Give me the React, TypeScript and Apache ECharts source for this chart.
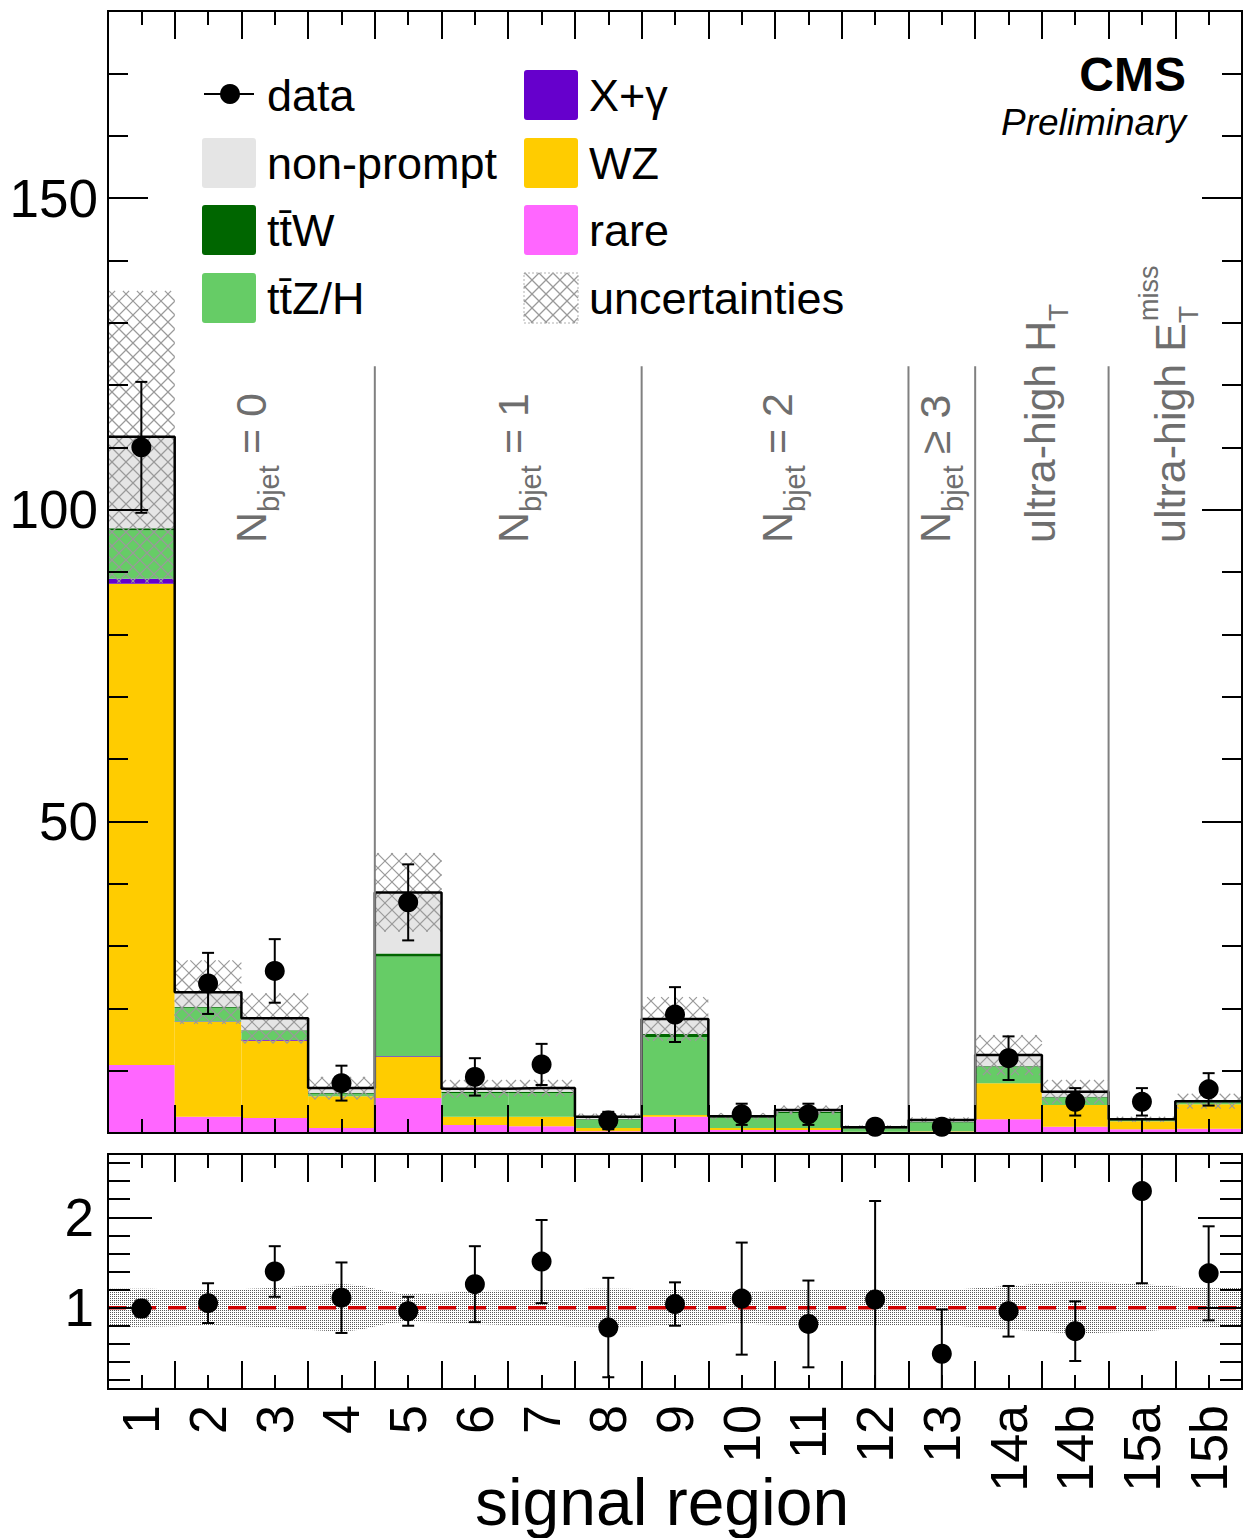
import React, { useEffect, useRef } from 'react';
import * as echarts from 'echarts';

const FONT = '"Liberation Sans", Arial, Helvetica, sans-serif';

// ---------------- data ----------------
const regions = ['1', '2', '3', '4', '5', '6', '7', '8', '9', '10', '11', '12', '13', '14a', '14b', '15a', '15b'];

// background components (events), stacked bottom -> top
const rare = [10.9, 2.6, 2.4, 0.8, 5.6, 1.3, 1.1, 0.3, 2.6, 0.5, 0.5, 0.1, 0.2, 2.2, 1.0, 0.6, 0.7];
const wz = [77.2, 15.2, 12.4, 5.1, 6.6, 1.3, 1.5, 0.5, 0.3, 0.3, 0.3, 0.1, 0.1, 5.8, 3.5, 1.3, 3.9];
const xgamma = [0.8, 0.1, 0.1, 0.0, 0.1, 0.0, 0.0, 0.0, 0.0, 0.0, 0.0, 0.0, 0.0, 0.0, 0.0, 0.0, 0.0];
const ttzh = [7.8, 2.2, 1.5, 0.4, 16.0, 3.8, 3.8, 1.3, 12.5, 1.7, 2.4, 0.55, 1.4, 2.6, 1.2, 0.2, 0.4];
const ttw = [0.3, 0.1, 0.1, 0.1, 0.5, 0.2, 0.2, 0.1, 0.5, 0.1, 0.2, 0.07, 0.1, 0.1, 0.1, 0.0, 0.1];
const nonprompt = [14.7, 2.4, 1.9, 0.8, 9.8, 0.5, 0.6, 0.4, 2.4, 0.1, 0.3, 0.1, 0.3, 1.8, 0.8, 0.1, 0.0];

// total background uncertainty (half width, events)
const bkgUnc = [23.4, 5.1, 4.0, 1.8, 6.3, 1.4, 1.3, 0.5, 3.5, 0.5, 0.7, 0.3, 0.4, 3.2, 1.9, 0.4, 1.2];

// observed data
const dataObs = [110, 24, 26, 8, 37, 9, 11, 2, 19, 3, 3, 1, 1, 12, 5, 5, 7];
const dataErr = [10.5, 4.9, 5.1, 2.8, 6.1, 3.0, 3.3, 1.4, 4.4, 1.7, 1.7, 1.0, 1.0, 3.5, 2.2, 2.2, 2.6];

// ratio panel
const ratioVal = [0.99, 1.05, 1.40, 1.11, 0.96, 1.26, 1.51, 0.78, 1.04, 1.10, 0.82, 1.09, 0.49, 0.96, 0.74, 2.29, 1.38];
const ratioErr = [0.09, 0.22, 0.28, 0.39, 0.16, 0.42, 0.46, 0.55, 0.24, 0.62, 0.48, 1.09, 0.49, 0.28, 0.33, 1.02, 0.52];
const ratioBand = [0.21, 0.20, 0.22, 0.26, 0.16, 0.18, 0.20, 0.21, 0.20, 0.18, 0.20, 0.20, 0.20, 0.24, 0.28, 0.26, 0.22];

// axes
const mainYMax = 180;
const ratioMin = 0.1;
const ratioMax = 2.7;
const ratioMajorTicks = [1, 2];
const ratioMinorTicks = [0.2, 0.4, 0.6, 0.8, 1.0, 1.2, 1.4, 1.6, 1.8, 2.0, 2.2, 2.4, 2.6];
const binCenters = regions.map((_, i) => i + 0.5);

// category separators (bin edges) and their top (events)
const separatorEdges = [4, 8, 12, 13, 15];
const separatorTop = 123;

const components = [
  { name: 'rare', values: rare, color: '#ff66ff' },
  { name: 'WZ', values: wz, color: '#ffcc00' },
  { name: 'X+γ', values: xgamma, color: '#6600cc' },
  { name: 'tt̄Z/H', values: ttzh, color: '#66cc66' },
  { name: 'tt̄W', values: ttw, color: '#006600' },
  { name: 'non-prompt', values: nonprompt, color: '#e5e5e5' },
];

// ---------------- helpers ----------------
function hatchSegs(x0: number, y0: number, x1: number, y1: number, p: number) {
  const segs: number[][] = [];
  const cMin = Math.ceil((y0 - x1) / p) * p;
  for (let c = cMin; c <= y1 - x0; c += p) {
    const xa = Math.max(x0, y0 - c);
    const xb = Math.min(x1, y1 - c);
    if (xb > xa) segs.push([xa, xa + c, xb, xb + c]);
  }
  const dMin = Math.ceil((x0 + y0) / p) * p;
  for (let c = dMin; c <= x1 + y1; c += p) {
    const xa = Math.max(x0, c - y1);
    const xb = Math.min(x1, c - y0);
    if (xb > xa) segs.push([xa, c - xa, xb, c - xb]);
  }
  return segs;
}

function hatchChildren(x0: number, y0: number, x1: number, y1: number) {
  return hatchSegs(x0, y0, x1, y1, 14).map((s) => ({
    type: 'line',
    shape: { x1: s[0], y1: s[1], x2: s[2], y2: s[3] },
    style: { stroke: '#9a9a9a', lineWidth: 1.2 },
    silent: true,
  }));
}

function rectRender(color: string) {
  return (params: any, api: any) => {
    const i = api.value(0);
    const p0 = api.coord([i, api.value(1)]);
    const p1 = api.coord([i + 1, api.value(2)]);
    return {
      type: 'rect',
      shape: { x: p0[0], y: p1[1], width: p1[0] - p0[0], height: p0[1] - p1[1] },
      style: { fill: color },
    };
  };
}

function errRender(yMin: number, yMax: number) {
  return (params: any, api: any) => {
    const x = api.value(0);
    const y = api.value(1);
    const e = api.value(2);
    const lo = Math.max(y - e, yMin);
    const hi = Math.min(y + e, yMax);
    const plo = api.coord([x, lo]);
    const phi = api.coord([x, hi]);
    const cx = plo[0];
    const st = { stroke: '#000', lineWidth: 2 };
    const children: any[] = [
      { type: 'line', shape: { x1: cx, y1: plo[1], x2: cx, y2: phi[1] }, style: st },
    ];
    if (y - e >= yMin) children.push({ type: 'line', shape: { x1: cx - 6, y1: plo[1], x2: cx + 6, y2: plo[1] }, style: st });
    if (y + e <= yMax) children.push({ type: 'line', shape: { x1: cx - 6, y1: phi[1], x2: cx + 6, y2: phi[1] }, style: st });
    return { type: 'group', children };
  };
}

const BLACK = { color: '#000', width: 2 };

function xAxes(gridIndex: number, labels: boolean) {
  const base = (position: string, showLabel: boolean) => ({
    type: 'value',
    gridIndex,
    position,
    min: 0,
    max: regions.length,
    interval: 1,
    z: 10,
    axisLine: { show: true, onZero: false, lineStyle: BLACK },
    axisTick: { show: true, inside: true, length: 28, lineStyle: BLACK },
    minorTick: { show: true, splitNumber: 2, length: 14, lineStyle: BLACK },
    splitLine: { show: false },
    minorSplitLine: { show: false },
    axisLabel: showLabel
      ? {
          show: true,
          customValues: binCenters,
          formatter: (v: number) => regions[Math.floor(v)] ?? '',
          rotate: 90,
          fontSize: 52,
          fontFamily: FONT,
          color: '#000',
          margin: 16,
        }
      : { show: false },
  });
  return [base('bottom', labels), base('top', false)];
}

function yAxesMain() {
  const mk = (position: string, major: boolean) => ({
    type: 'value',
    gridIndex: 0,
    position,
    min: 0,
    max: mainYMax,
    interval: major ? 50 : 10,
    z: 10,
    axisLine: { show: true, onZero: false, lineStyle: BLACK },
    axisTick: { show: true, inside: true, length: major ? 40 : 20, lineStyle: BLACK },
    splitLine: { show: false },
    axisLabel:
      major && position === 'left'
        ? {
            show: true,
            fontSize: 53,
            fontFamily: FONT,
            color: '#000',
            margin: 10,
            formatter: (v: number) => (v === 0 || v === mainYMax ? '' : String(v)),
          }
        : { show: false },
  });
  return [mk('left', true), mk('left', false), mk('right', true), mk('right', false)];
}

function yAxesRatio() {
  const mk = (position: string, major: boolean) => ({
    type: 'value',
    gridIndex: 1,
    position,
    min: ratioMin,
    max: ratioMax,
    z: 10,
    axisLine: { show: true, onZero: false, lineStyle: BLACK },
    axisTick: {
      show: true,
      inside: true,
      length: major ? 44 : 22,
      lineStyle: BLACK,
      customValues: major ? ratioMajorTicks : ratioMinorTicks,
    },
    splitLine: { show: false },
    axisLabel:
      major && position === 'left'
        ? {
            show: true,
            customValues: ratioMajorTicks,
            fontSize: 53,
            fontFamily: FONT,
            color: '#000',
            margin: 14,
            formatter: (v: number) => String(v),
          }
        : { show: false },
  });
  return [mk('left', true), mk('left', false), mk('right', true), mk('right', false)];
}

function makeStipple(): any {
  try {
    const c = document.createElement('canvas');
    c.width = 2;
    c.height = 2;
    const ctx = c.getContext('2d');
    if (!ctx) return '#d4d4d4';
    ctx.fillStyle = '#5a5a5a';
    ctx.fillRect(0, 0, 1, 1);
    return { image: c, repeat: 'repeat' };
  } catch (e) {
    return '#d4d4d4';
  }
}

function buildOption() {
  // stacks
  const cum = regions.map(() => 0);
  const stackSeries = components.map((comp) => {
    const data = comp.values.map((v, i) => {
      const b = cum[i];
      cum[i] = b + v;
      return [i, b, b + v];
    });
    return {
      type: 'custom',
      name: comp.name,
      xAxisIndex: 0,
      yAxisIndex: 0,
      encode: { x: 0, y: [1, 2] },
      data,
      renderItem: rectRender(comp.color),
      z: 2,
    };
  });
  const totals = cum.slice();

  const hatchSeries = {
    type: 'custom',
    name: 'uncertainties',
    xAxisIndex: 0,
    yAxisIndex: 0,
    encode: { x: 0, y: [1, 2] },
    data: totals.map((t, i) => [i, t - bkgUnc[i], t + bkgUnc[i]]),
    renderItem: (params: any, api: any) => {
      const i = api.value(0);
      const a = api.coord([i, api.value(2)]);
      const b = api.coord([i + 1, api.value(1)]);
      return { type: 'group', children: hatchChildren(a[0], a[1], b[0], b[1]) };
    },
    z: 3,
  };

  const outline = {
    type: 'line',
    xAxisIndex: 0,
    yAxisIndex: 0,
    step: 'middle',
    symbol: 'none',
    data: [[0, totals[0]], ...totals.map((t, i) => [i + 0.5, t]), [regions.length, totals[totals.length - 1]]],
    lineStyle: { color: '#000', width: 2.5 },
    z: 4,
  };

  const separators = {
    type: 'custom',
    xAxisIndex: 0,
    yAxisIndex: 0,
    encode: { x: 0, y: 1 },
    data: separatorEdges.map((e) => [e, separatorTop]),
    renderItem: (params: any, api: any) => {
      const a = api.coord([api.value(0), 0]);
      const b = api.coord([api.value(0), api.value(1)]);
      return {
        type: 'line',
        shape: { x1: a[0], y1: a[1], x2: b[0], y2: b[1] },
        style: { stroke: '#808080', lineWidth: 2 },
      };
    },
    z: 5,
  };

  const dataErrSeries = {
    type: 'custom',
    xAxisIndex: 0,
    yAxisIndex: 0,
    encode: { x: 0, y: 1 },
    data: dataObs.map((v, i) => [i + 0.5, v, dataErr[i]]),
    renderItem: errRender(0, mainYMax),
    z: 6,
  };
  const dataPts = {
    type: 'scatter',
    xAxisIndex: 0,
    yAxisIndex: 0,
    data: dataObs.map((v, i) => [i + 0.5, v]),
    symbol: 'circle',
    symbolSize: 20,
    itemStyle: { color: '#000', opacity: 1 },
    z: 7,
  };

  // ratio panel: band = gray area under (1+u) covered by white area under (1-u)
  const bandX = [0, ...binCenters, regions.length];
  const bandU = [ratioBand[0], ...ratioBand, ratioBand[ratioBand.length - 1]];
  const bandUpper = {
    type: 'line',
    xAxisIndex: 2,
    yAxisIndex: 4,
    smooth: 0.4,
    symbol: 'none',
    lineStyle: { opacity: 0 },
    areaStyle: { color: makeStipple(), opacity: 1, origin: 'start' },
    data: bandX.map((x, i) => [x, 1 + bandU[i]]),
    z: 2,
  };
  const bandLower = {
    type: 'line',
    xAxisIndex: 2,
    yAxisIndex: 4,
    smooth: 0.4,
    symbol: 'none',
    lineStyle: { opacity: 0 },
    areaStyle: { color: '#ffffff', opacity: 1, origin: 'start' },
    data: bandX.map((x, i) => [x, 1 - bandU[i]]),
    z: 2,
  };
  const unity = {
    type: 'line',
    xAxisIndex: 2,
    yAxisIndex: 4,
    symbol: 'none',
    data: [[0, 1], [regions.length, 1]],
    lineStyle: { color: '#d00000', width: 3.5, type: [18, 12] },
    z: 3,
  };
  const ratioErrSeries = {
    type: 'custom',
    xAxisIndex: 2,
    yAxisIndex: 4,
    encode: { x: 0, y: 1 },
    data: ratioVal.map((v, i) => [i + 0.5, v, ratioErr[i]]),
    renderItem: errRender(ratioMin, ratioMax),
    z: 6,
  };
  const ratioPts = {
    type: 'scatter',
    xAxisIndex: 2,
    yAxisIndex: 4,
    data: ratioVal.map((v, i) => [i + 0.5, v]),
    symbol: 'circle',
    symbolSize: 20,
    itemStyle: { color: '#000', opacity: 1 },
    z: 7,
  };

  // legend & texts
  const legendItems = [
    { col: 0, row: 0, kind: 'data', label: 'data' },
    { col: 0, row: 1, kind: 'box', color: '#e5e5e5', label: 'non-prompt' },
    { col: 0, row: 2, kind: 'box', color: '#006600', label: 'tt\u0304W' },
    { col: 0, row: 3, kind: 'box', color: '#66cc66', label: 'tt\u0304Z/H' },
    { col: 1, row: 0, kind: 'box', color: '#6600cc', label: 'X+γ' },
    { col: 1, row: 1, kind: 'box', color: '#ffcc00', label: 'WZ' },
    { col: 1, row: 2, kind: 'box', color: '#ff66ff', label: 'rare' },
    { col: 1, row: 3, kind: 'hatch', label: 'uncertainties' },
  ];
  const colX = [202, 524];
  const rowY = [95, 163, 230, 298];
  const graphics: any[] = [];
  legendItems.forEach((it) => {
    const bx = colX[it.col];
    const cy = rowY[it.row];
    if (it.kind === 'data') {
      graphics.push({ type: 'line', shape: { x1: bx + 2, y1: cy - 1, x2: bx + 52, y2: cy - 1 }, style: { stroke: '#000', lineWidth: 2 } });
      graphics.push({ type: 'circle', shape: { cx: bx + 28, cy: cy - 1, r: 10 }, style: { fill: '#000' } });
    } else if (it.kind === 'box') {
      graphics.push({ type: 'rect', shape: { x: bx, y: cy - 25, width: 54, height: 50, r: 3 }, style: { fill: it.color } });
    } else {
      graphics.push({ type: 'group', children: hatchChildren(bx, cy - 25, bx + 54, cy + 25) });
      graphics.push({
        type: 'rect',
        shape: { x: bx, y: cy - 25, width: 54, height: 50 },
        style: { fill: 'none', stroke: '#b0b0b0', lineWidth: 1, lineDash: [2, 2] },
      });
    }
    graphics.push({
      type: 'text',
      x: bx + 65,
      y: cy,
      style: { text: it.label, fontSize: 45, fontFamily: FONT, fill: '#000', align: 'left', verticalAlign: 'middle' },
    });
  });

  graphics.push({
    type: 'text',
    x: 1186,
    y: 74,
    style: { text: 'CMS', fontSize: 48, fontWeight: 'bold', fontFamily: FONT, fill: '#000', align: 'right', verticalAlign: 'middle' },
  });
  graphics.push({
    type: 'text',
    x: 1186,
    y: 122,
    style: { text: 'Preliminary', fontSize: 37, fontStyle: 'italic', fontFamily: FONT, fill: '#000', align: 'right', verticalAlign: 'middle' },
  });

  const GRAY = '#6e6e6e';
  const annotations = [
    { x: 251, parts: [{ t: 'N', dx: 0, dy: 0, s: 43 }, { t: 'bjet', dx: 31, dy: 18, s: 29 }, { t: ' = 0', dx: 77, dy: 0, s: 43 }] },
    { x: 513, parts: [{ t: 'N', dx: 0, dy: 0, s: 43 }, { t: 'bjet', dx: 31, dy: 18, s: 29 }, { t: ' = 1', dx: 77, dy: 0, s: 43 }] },
    { x: 777, parts: [{ t: 'N', dx: 0, dy: 0, s: 43 }, { t: 'bjet', dx: 31, dy: 18, s: 29 }, { t: ' = 2', dx: 77, dy: 0, s: 43 }] },
    { x: 935, parts: [{ t: 'N', dx: 0, dy: 0, s: 43 }, { t: 'bjet', dx: 31, dy: 18, s: 29 }, { t: ' ≥ 3', dx: 77, dy: 0, s: 43 }] },
    { x: 1040, parts: [{ t: 'ultra-high H', dx: 0, dy: 0, s: 43 }, { t: 'T', dx: 222, dy: 18, s: 28 }] },
    {
      x: 1170,
      parts: [
        { t: 'ultra-high E', dx: 0, dy: 0, s: 43 },
        { t: 'T', dx: 220, dy: 18, s: 28 },
        { t: 'miss', dx: 222, dy: -21, s: 27 },
      ],
    },
  ];
  annotations.forEach((a) => {
    graphics.push({
      type: 'group',
      x: a.x,
      y: 543,
      rotation: Math.PI / 2,
      children: a.parts.map((p) => ({
        type: 'text',
        x: p.dx,
        y: p.dy,
        style: { text: p.t, fontSize: p.s, fontFamily: FONT, fill: GRAY, align: 'left', verticalAlign: 'middle' },
      })),
    });
  });

  graphics.push({
    type: 'text',
    x: 662,
    y: 1502,
    style: { text: 'signal region', fontSize: 66, fontFamily: FONT, fill: '#000', align: 'center', verticalAlign: 'middle' },
  });

  return {
    animation: false,
    backgroundColor: '#ffffff',
    grid: [
      { left: 108, top: 11, width: 1134, height: 1122 },
      { left: 108, top: 1154, width: 1134, height: 235 },
    ],
    xAxis: [...xAxes(0, false), ...xAxes(1, true)],
    yAxis: [...yAxesMain(), ...yAxesRatio()],
    series: [
      ...stackSeries,
      hatchSeries,
      outline,
      separators,
      dataErrSeries,
      dataPts,
      bandUpper,
      bandLower,
      unity,
      ratioErrSeries,
      ratioPts,
    ],
    graphic: graphics,
  };
}

export default function App() {
  const ref = useRef<HTMLDivElement>(null);
  useEffect(() => {
    if (!ref.current) return;
    const chart = echarts.init(ref.current, undefined, { renderer: 'svg' });
    chart.setOption(buildOption() as any);
    return () => chart.dispose();
  }, []);
  return (
    <div
      ref={ref}
      style={{ position: 'absolute', left: 0, top: 0, width: 1243, height: 1538, background: '#fff' }}
    />
  );
}
